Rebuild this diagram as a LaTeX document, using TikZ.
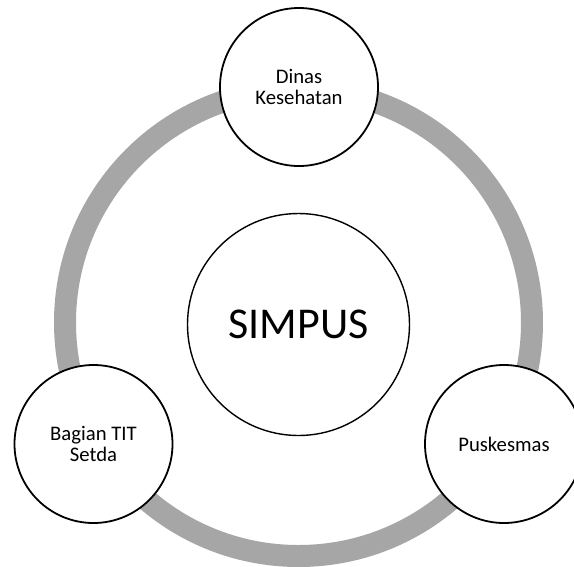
\documentclass[tikz,border=0pt]{standalone}
\usepackage{fontspec}
\setmainfont{Carlito}
\definecolor{ringgray}{RGB}{166,166,166}
\begin{document}
\begin{tikzpicture}[x=1pt,y=-1pt,
  ring/.style={draw=ringgray,line width=22pt},
  satellite/.style={circle,draw=black,fill=white,line width=1.8pt,minimum size=158pt,inner sep=0pt,align=center,font=\fontsize{20.7}{21}\selectfont},
  hub/.style={circle,draw=black,fill=white,line width=1.4pt,minimum size=222pt,inner sep=0pt,font=\fontsize{44}{50}\selectfont}]
\useasboundingbox (0,0) rectangle (574,566);
\fill[white] (0,0) rectangle (574,566);
\coordinate (c) at (298.5,322.5);
\draw[ring] (c) circle [radius=233.5pt];
\node[hub] (simpus) at (298.5,324.5) {SIMPUS};
\node[satellite] (dinas) at (299,87) {Dinas\\Kesehatan};
\node[satellite] (bagian) at (93.5,444) {Bagian TIT\\Setda};
\node[satellite] (pusk) at (504,444) {Puskesmas};
\end{tikzpicture}
\end{document}
